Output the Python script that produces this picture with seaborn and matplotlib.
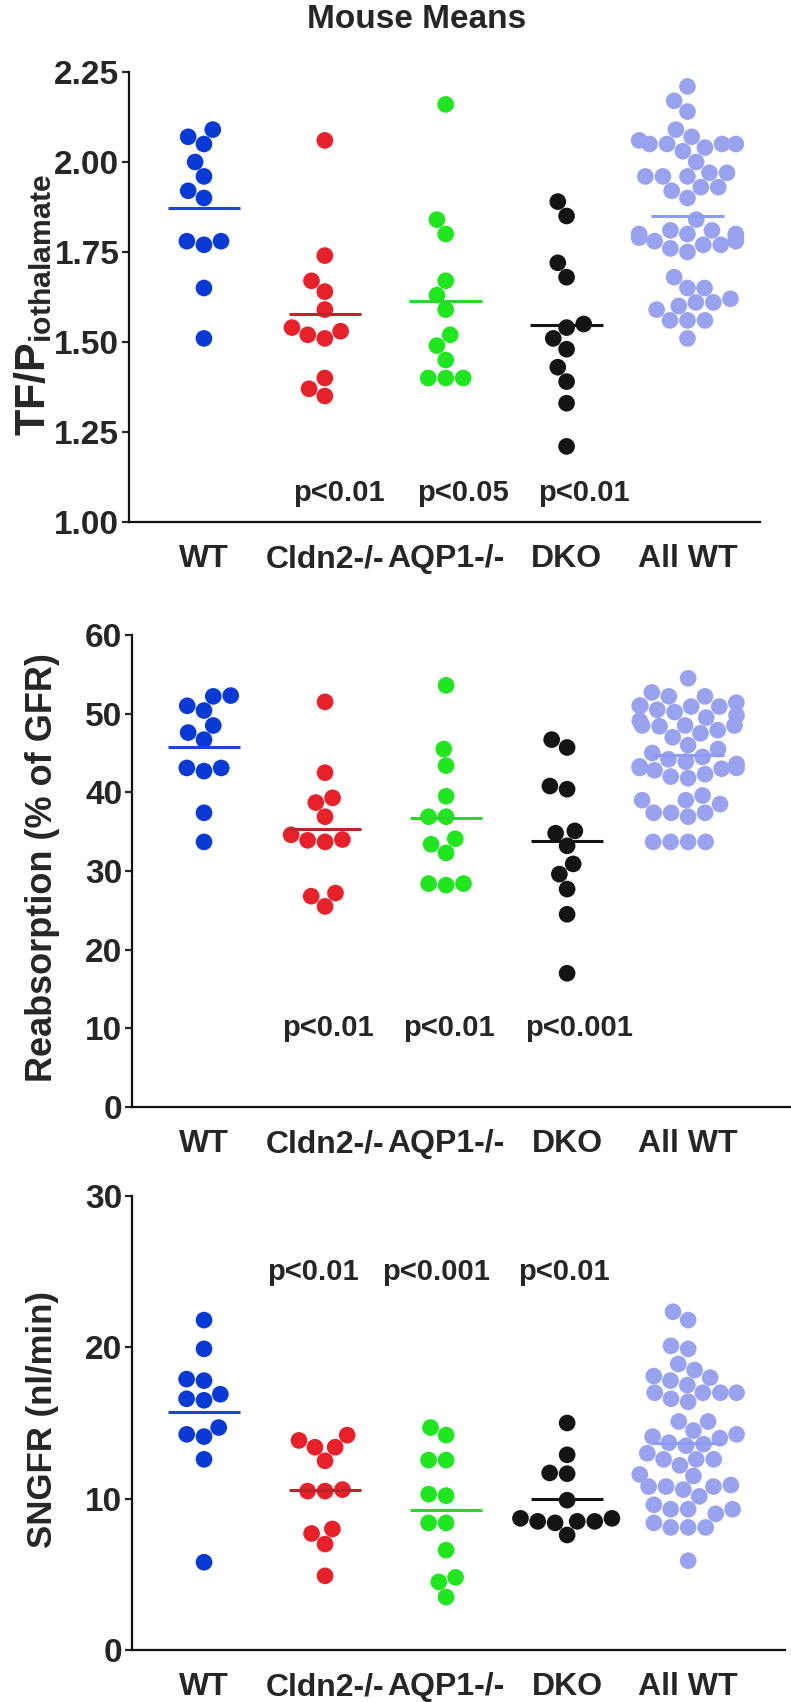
import numpy as np
import pandas as pd
import matplotlib
matplotlib.use("Agg")
import matplotlib.pyplot as plt
from matplotlib import font_manager
import seaborn as sns

# categories and colours
groups = ["WT", "Cldn2-/-", "AQP1-/-", "DKO", "All WT"]
dot_colors = ["#0a3ad6", "#e8202a", "#1fe61f", "#141414", "#98a2ef"]
line_colors = ["#1c44d8", "#b8262c", "#2ad82a", "#141414", "#8f9bf0"]

# panel 1: TF/P iothalamate
tfp_wt = [2.07, 2.05, 2.09, 2.00, 1.96, 1.92, 1.90, 1.78, 1.77, 1.78, 1.65, 1.51]
tfp_cldn2 = [2.06, 1.74, 1.67, 1.64, 1.59, 1.54, 1.52, 1.51, 1.53, 1.40, 1.35, 1.37]
tfp_aqp1 = [2.16, 1.84, 1.80, 1.67, 1.63, 1.59, 1.52, 1.49, 1.45, 1.40, 1.40, 1.40]
tfp_dko = [1.89, 1.85, 1.72, 1.68, 1.54, 1.55, 1.51, 1.48, 1.43, 1.39, 1.33, 1.21]
tfp_allwt = [2.21, 2.17, 2.14, 2.09, 2.07, 2.05, 2.05, 2.03, 2.05, 2.05, 2.00, 1.97,
             1.96, 1.96, 1.96, 1.93, 1.92, 1.93, 1.90, 1.84, 1.81, 1.81, 1.80, 1.80,
             1.80, 1.78, 1.78, 1.77, 1.77, 1.76, 1.75, 1.68, 1.65, 1.65, 1.61, 1.61,
             1.60, 1.59, 1.56, 1.56, 1.56, 1.51, 2.06, 2.04, 1.79, 1.79, 1.62, 1.97]
tfp_p = ["", "p<0.01", "p<0.05", "p<0.01", ""]

# panel 2: reabsorption (% of GFR)
reab_wt = [52.2, 52.3, 51.0, 50.4, 48.5, 47.6, 46.7, 43.1, 42.7, 43.1, 37.4, 33.7]
reab_cldn2 = [51.5, 42.5, 39.3, 38.7, 36.9, 33.9, 33.7, 34.0, 34.6, 27.2, 26.8, 25.5]
reab_aqp1 = [53.6, 45.5, 43.4, 39.5, 36.9, 36.9, 33.4, 34.1, 32.3, 28.4, 28.2, 28.4]
reab_dko = [46.7, 45.7, 40.8, 40.4, 34.8, 35.1, 33.2, 30.9, 29.6, 27.7, 24.5, 17.0]
reab_allwt = [54.5, 52.7, 52.2, 52.2, 51.0, 51.0, 51.4, 50.9, 50.5, 50.9, 49.5, 49.1,
              48.5, 48.5, 48.5, 48.4, 47.5, 47.0, 45.5, 45.0, 44.5, 43.9, 43.1, 43.1,
              43.6, 43.0, 42.3, 41.8, 43.3, 39.6, 39.0, 39.0, 37.4, 37.4, 36.9, 37.4,
              33.7, 33.7, 33.7, 33.7, 38.5, 50.2, 49.8, 47.9, 44.2, 42.8, 46.0, 42.0]
reab_p = ["", "p<0.01", "p<0.01", "p<0.001", ""]

# panel 3: SNGFR (nl/min)
sngfr_wt = [21.8, 19.9, 17.9, 17.8, 16.6, 16.5, 16.9, 14.7, 14.1, 14.25, 12.6, 5.8]
sngfr_cldn2 = [14.2, 13.85, 13.4, 13.4, 12.5, 10.6, 10.5, 10.5, 7.7, 8.0, 7.0, 4.9]
sngfr_aqp1 = [14.7, 14.2, 12.55, 12.55, 10.3, 10.2, 8.4, 8.4, 6.6, 4.8, 4.5, 3.5]
sngfr_dko = [15.0, 12.9, 11.65, 11.7, 9.9, 8.7, 8.5, 8.5, 8.5, 8.7, 7.6, 8.4]
sngfr_allwt = [22.35, 21.8, 20.1, 19.9, 18.9, 18.5, 18.1, 17.8, 18.0, 17.5, 17.0, 17.0,
               17.0, 17.0, 16.4, 15.1, 15.1, 14.25, 13.7, 13.6, 14.1, 12.6, 12.2, 12.6,
               12.6, 11.6, 11.5, 10.8, 10.8, 10.6, 10.8, 10.9, 10.15, 9.3, 9.3, 9.3,
               9.6, 9.0, 8.4, 8.1, 8.1, 8.1, 5.9, 16.6, 14.5, 13.0, 13.5, 14.0]
sngfr_p = ["", "p<0.01", "p<0.001", "p<0.01", ""]

sns.set_style("ticks")
avail = {f.name for f in font_manager.fontManager.ttflist}
narrow = "Liberation Sans Narrow" if "Liberation Sans Narrow" in avail else "Liberation Sans"
plt.rcParams["font.family"] = [narrow, "DejaVu Sans"]
plt.rcParams["font.weight"] = "bold"
plt.rcParams["mathtext.fontset"] = "custom"
plt.rcParams["mathtext.bf"] = "Liberation Sans:bold"
plt.rcParams["mathtext.rm"] = "Liberation Sans:bold"

W, H = 791, 1702
fig = plt.figure(figsize=(W / 100, H / 100), dpi=100)


def make_axes(l, r, t, b):
    return fig.add_axes([l / W, 1 - b / H, (r - l) / W, (b - t) / H])


def panel(ax, series, ylim, ticks, fmt, pvals, p_y, p_dx, xlim):
    df = pd.DataFrame({
        "group": np.repeat(groups, [len(s) for s in series]),
        "value": np.concatenate(series),
    })
    ax.set_ylim(*ylim)
    sns.swarmplot(data=df, x="group", y="value", hue="group", order=groups,
                  hue_order=groups, palette=dot_colors, size=12, ax=ax,
                  legend=False, linewidth=0, zorder=2)
    means = df.groupby("group")["value"].mean().reindex(groups)
    for i, g in enumerate(groups):
        ax.hlines(means[g], i - 0.3, i + 0.3, color=line_colors[i], lw=2.2, zorder=3)
    for i, p in enumerate(pvals):
        if p:
            ax.text(i + p_dx[i], p_y, p, ha="center", va="center", fontsize=21,
                    fontweight="bold")
    ax.set_xlim(*xlim)
    ax.set_ylim(*ylim)
    ax.set_yticks(ticks)
    ax.set_yticklabels([fmt.format(t) for t in ticks])
    ax.set_xlabel("")
    ax.set_ylabel("")
    sns.despine(ax=ax)
    for s in ["left", "bottom"]:
        ax.spines[s].set_linewidth(1.6)
        ax.spines[s].set_color("#111111")
    ax.tick_params(axis="y", length=5, width=1.6, labelsize=24, pad=2)
    ax.tick_params(axis="x", length=0, labelsize=23, pad=16)
    for lab in ax.get_xticklabels() + ax.get_yticklabels():
        lab.set_fontweight("bold")


ax1 = make_axes(129, 760, 72, 522)
panel(ax1, [tfp_wt, tfp_cldn2, tfp_aqp1, tfp_dko, tfp_allwt], (1.0, 2.25),
      [1.00, 1.25, 1.50, 1.75, 2.00, 2.25], "{:.2f}", tfp_p, 1.08,
      [0, 0.12, 0.14, 0.14, 0], (-0.62, 4.6))

ax2 = make_axes(132, 791, 635, 1107)
panel(ax2, [reab_wt, reab_cldn2, reab_aqp1, reab_dko, reab_allwt], (0, 60),
      [0, 10, 20, 30, 40, 50, 60], "{:.0f}", reab_p, 10,
      [0, 0.02, 0.02, 0.1, 0], (-0.595, 4.85))

ax3 = make_axes(132, 785, 1196, 1650)
panel(ax3, [sngfr_wt, sngfr_cldn2, sngfr_aqp1, sngfr_dko, sngfr_allwt], (0, 30),
      [0, 10, 20, 30], "{:.0f}", sngfr_p, 25,
      [0, -0.1, -0.08, -0.03, 0], (-0.595, 4.8))

lab_kw = dict(rotation=90, ha="center", va="center", fontweight="bold",
              family=["Liberation Sans", "DejaVu Sans"])
fig.text(33 / W, 1 - 305 / H, r"TF/P$_{\mathbf{iothalamate}}$", fontsize=31, **lab_kw)
fig.text(43 / W, 1 - 868 / H, "Reabsorption (% of GFR)", fontsize=26, **lab_kw)
fig.text(43 / W, 1 - 1420 / H, "SNGFR (nl/min)", fontsize=25, **lab_kw)

fig.text(417 / W, 1 - 20 / H, "Mouse Means", ha="center", va="center",
         fontsize=24, fontweight="bold")

fig.savefig("out.png", dpi=100)
